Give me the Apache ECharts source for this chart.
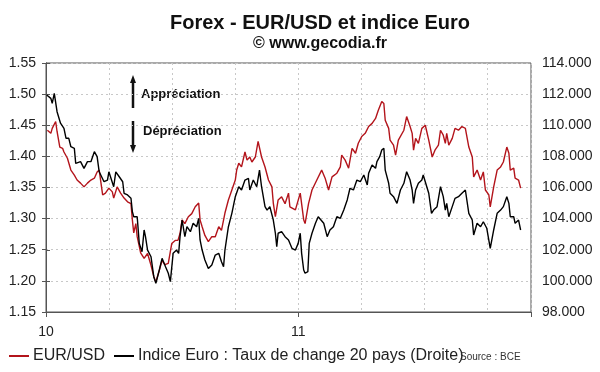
<!DOCTYPE html>
<html><head><meta charset="utf-8">
<script src="https://cdn.jsdelivr.net/npm/echarts@6/dist/echarts.min.js"></script>
<style>html,body{margin:0;padding:0;background:#fff}#c{width:600px;height:372px}</style>
</head><body><div id="c"></div>
<script>
const eurDates = ['2010-01-03','2010-01-08','2010-01-10','2010-01-15','2010-01-17','2010-01-21','2010-01-25','2010-01-27','2010-02-01','2010-02-03','2010-02-06','2010-02-11','2010-02-15','2010-02-20','2010-02-25','2010-03-02','2010-03-07','2010-03-12','2010-03-16','2010-03-19','2010-03-21','2010-03-24','2010-03-28','2010-04-02','2010-04-07','2010-04-09','2010-04-14','2010-04-19','2010-04-24','2010-04-29','2010-05-04','2010-05-06','2010-05-08','2010-05-11','2010-05-13','2010-05-18','2010-05-23','2010-05-28','2010-06-02','2010-06-06','2010-06-09','2010-06-14','2010-06-18','2010-06-22','2010-06-27','2010-07-02','2010-07-07','2010-07-11','2010-07-14','2010-07-17','2010-07-21','2010-07-26','2010-07-31','2010-08-05','2010-08-10','2010-08-12','2010-08-15','2010-08-19','2010-08-24','2010-08-29','2010-09-03','2010-09-08','2010-09-12','2010-09-17','2010-09-22','2010-09-27','2010-10-02','2010-10-04','2010-10-07','2010-10-11','2010-10-16','2010-10-19','2010-10-23','2010-10-26','2010-10-31','2010-11-04','2010-11-09','2010-11-14','2010-11-19','2010-11-24','2010-11-26','2010-11-29','2010-12-03','2010-12-08','2010-12-13','2010-12-18','2010-12-20','2010-12-28','2011-01-04','2011-01-09','2011-01-11','2011-01-16','2011-01-21','2011-01-28','2011-02-04','2011-02-09','2011-02-14','2011-02-19','2011-02-26','2011-03-03','2011-03-05','2011-03-10','2011-03-15','2011-03-20','2011-03-25','2011-03-29','2011-04-03','2011-04-08','2011-04-13','2011-04-18','2011-04-23','2011-04-27','2011-05-02','2011-05-05','2011-05-07','2011-05-12','2011-05-14','2011-05-19','2011-05-22','2011-05-26','2011-06-03','2011-06-07','2011-06-12','2011-06-15','2011-06-17','2011-06-20','2011-06-24','2011-06-29','2011-07-04','2011-07-09','2011-07-14','2011-07-18','2011-07-23','2011-07-26','2011-07-30','2011-08-02','2011-08-04','2011-08-07','2011-08-12','2011-08-16','2011-08-21','2011-08-26','2011-08-31','2011-09-05','2011-09-10','2011-09-12','2011-09-17','2011-09-22','2011-09-26','2011-09-29','2011-10-04','2011-10-06','2011-10-11','2011-10-16','2011-10-21','2011-10-25','2011-10-30','2011-11-02','2011-11-04','2011-11-09','2011-11-11','2011-11-16','2011-11-19'];
const eurValues = [1.442,1.437,1.445,1.456,1.440,1.415,1.413,1.407,1.397,1.394,1.378,1.370,1.362,1.357,1.351,1.357,1.362,1.365,1.375,1.378,1.362,1.338,1.341,1.349,1.343,1.333,1.351,1.341,1.333,1.327,1.324,1.298,1.277,1.292,1.271,1.245,1.236,1.244,1.225,1.207,1.198,1.217,1.233,1.226,1.228,1.260,1.265,1.265,1.276,1.298,1.292,1.303,1.308,1.319,1.325,1.298,1.287,1.273,1.263,1.271,1.271,1.287,1.281,1.309,1.330,1.346,1.362,1.378,1.389,1.383,1.407,1.394,1.399,1.391,1.399,1.424,1.399,1.383,1.362,1.351,1.325,1.303,1.330,1.335,1.324,1.341,1.319,1.314,1.341,1.298,1.292,1.324,1.346,1.362,1.378,1.365,1.346,1.367,1.373,1.383,1.402,1.394,1.381,1.413,1.405,1.421,1.432,1.437,1.448,1.453,1.461,1.474,1.488,1.485,1.458,1.445,1.426,1.418,1.402,1.426,1.442,1.464,1.448,1.437,1.410,1.429,1.421,1.445,1.450,1.426,1.399,1.410,1.418,1.442,1.434,1.421,1.437,1.418,1.429,1.445,1.442,1.448,1.445,1.415,1.399,1.367,1.378,1.362,1.375,1.346,1.338,1.319,1.351,1.378,1.383,1.391,1.415,1.405,1.378,1.381,1.365,1.362,1.349];
const idxDates = ['2010-01-02','2010-01-08','2010-01-10','2010-01-13','2010-01-15','2010-01-17','2010-01-22','2010-01-27','2010-01-30','2010-02-03','2010-02-06','2010-02-11','2010-02-13','2010-02-15','2010-02-20','2010-02-25','2010-03-02','2010-03-07','2010-03-12','2010-03-16','2010-03-19','2010-03-21','2010-03-26','2010-03-31','2010-04-02','2010-04-09','2010-04-12','2010-04-17','2010-04-22','2010-04-24','2010-04-29','2010-05-04','2010-05-06','2010-05-08','2010-05-13','2010-05-16','2010-05-20','2010-05-23','2010-05-25','2010-05-28','2010-06-02','2010-06-06','2010-06-09','2010-06-14','2010-06-18','2010-06-23','2010-06-27','2010-06-30','2010-07-04','2010-07-09','2010-07-12','2010-07-14','2010-07-17','2010-07-21','2010-07-24','2010-07-29','2010-08-02','2010-08-07','2010-08-10','2010-08-12','2010-08-15','2010-08-19','2010-08-24','2010-08-29','2010-09-03','2010-09-08','2010-09-12','2010-09-15','2010-09-17','2010-09-22','2010-09-27','2010-10-02','2010-10-07','2010-10-11','2010-10-16','2010-10-21','2010-10-23','2010-10-28','2010-11-02','2010-11-06','2010-11-09','2010-11-14','2010-11-17','2010-11-21','2010-11-26','2010-11-29','2010-12-01','2010-12-03','2010-12-08','2010-12-13','2010-12-18','2010-12-23','2010-12-28','2011-01-01','2011-01-04','2011-01-06','2011-01-09','2011-01-11','2011-01-15','2011-01-17','2011-01-21','2011-01-26','2011-01-30','2011-02-07','2011-02-12','2011-02-16','2011-02-21','2011-02-26','2011-03-03','2011-03-08','2011-03-13','2011-03-17','2011-03-22','2011-03-27','2011-04-01','2011-04-06','2011-04-11','2011-04-13','2011-04-18','2011-04-23','2011-04-25','2011-04-29','2011-05-02','2011-05-05','2011-05-07','2011-05-12','2011-05-14','2011-05-19','2011-05-24','2011-05-29','2011-06-03','2011-06-07','2011-06-12','2011-06-15','2011-06-17','2011-06-20','2011-06-24','2011-06-29','2011-07-01','2011-07-09','2011-07-13','2011-07-16','2011-07-21','2011-07-26','2011-07-30','2011-08-02','2011-08-04','2011-08-07','2011-08-12','2011-08-16','2011-08-21','2011-08-26','2011-08-31','2011-09-05','2011-09-10','2011-09-12','2011-09-17','2011-09-22','2011-09-26','2011-10-01','2011-10-06','2011-10-11','2011-10-16','2011-10-21','2011-10-25','2011-10-30','2011-11-02','2011-11-04','2011-11-09','2011-11-11','2011-11-16','2011-11-19'];
const idxValues = [111.94,111.73,111.41,112.05,112.01,110.87,110.13,109.80,109.16,109.16,108.62,108.52,107.55,107.45,107.66,107.23,107.66,107.66,108.30,107.98,107.01,106.91,106.37,106.48,107.01,106.05,107.01,106.69,106.37,105.63,105.52,105.31,104.45,104.12,104.12,102.41,101.87,103.27,102.84,101.98,101.55,100.27,99.84,100.70,101.45,100.91,100.49,99.95,101.77,101.98,101.77,102.84,103.91,102.84,103.48,103.16,103.70,103.48,104.02,102.63,101.98,101.34,100.80,101.02,101.66,101.77,101.23,100.91,101.98,103.48,104.34,105.41,106.05,105.84,106.48,106.59,105.84,106.48,106.05,107.12,106.05,104.77,104.55,104.77,103.91,103.06,102.20,103.06,103.16,102.84,102.63,102.09,101.98,102.41,103.06,101.77,100.70,100.49,100.59,102.41,103.06,103.70,104.12,103.70,102.84,103.27,103.48,104.12,104.02,104.55,105.20,105.95,105.84,106.48,106.37,106.80,106.16,106.91,107.45,107.23,107.66,107.98,108.41,108.52,107.12,106.27,105.63,105.41,104.98,105.84,106.27,107.01,106.48,105.84,104.98,105.84,106.27,106.48,106.80,105.63,104.34,104.55,104.77,106.05,105.41,104.55,104.98,104.12,104.77,105.30,105.41,105.63,105.84,104.34,103.91,102.95,103.70,103.48,103.80,103.38,102.09,103.27,104.34,104.55,104.77,105.41,104.98,104.12,104.12,103.70,103.91,103.27];
const yearLabels = ['10', '11'];
const seriesNames = ['EUR/USD', 'Indice Euro : Taux de change 20 pays (Droite)'];

const FONT = 'Liberation Sans, Arial, sans-serif';
const T0 = Date.UTC(2010, 0, 1);
function dayIdx(s) { const p = s.split('-'); return (Date.UTC(+p[0], +p[1] - 1, +p[2]) - T0) / 86400000; }
const eurData = eurDates.map((d, i) => [dayIdx(d), eurValues[i]]);
const idxData = idxDates.map((d, i) => [dayIdx(d), idxValues[i]]);

const chart = echarts.init(document.getElementById('c'));
const grid = { left: 46, right: 69, top: 63, bottom: 60, show: true, borderColor: '#555', borderWidth: 1 };
const dotted = { show: true, lineStyle: { color: '#c8c8c8', type: [2, 3], width: 1 } };
chart.setOption({
  animation: false,
  backgroundColor: '#fff',
  grid: grid,
  xAxis: [
    { type: 'value', min: 0, max: 702, interval: 91.25, axisLine: { show: false }, axisTick: { show: false },
      axisLabel: { show: false }, splitLine: dotted },
    { type: 'value', position: 'bottom', min: 0, max: 702, interval: 365,
      axisLine: { show: true, lineStyle: { color: '#555' } },
      axisTick: { show: true, length: 5, lineStyle: { color: '#555' } },
      splitLine: { show: false },
      axisLabel: { fontFamily: FONT, fontSize: 14, color: '#222', margin: 13,
        formatter: v => (Math.abs(v) < 1 ? yearLabels[0] : (Math.abs(v - 365) < 1 ? yearLabels[1] : '')) } }
  ],
  yAxis: [
    { type: 'value', position: 'left', min: 1.15, max: 1.55, interval: 0.05,
      axisLine: { show: true, lineStyle: { color: '#555' } },
      axisTick: { show: true, length: 4, lineStyle: { color: '#555' } },
      axisLabel: { fontFamily: FONT, fontSize: 14, color: '#222', margin: 10, formatter: v => v.toFixed(2) },
      splitLine: dotted },
    { type: 'value', position: 'right', min: 98, max: 114, interval: 2,
      axisLine: { show: true, lineStyle: { color: '#555' } },
      axisTick: { show: true, length: 4, lineStyle: { color: '#555' } },
      axisLabel: { fontFamily: FONT, fontSize: 14, color: '#222', margin: 11, formatter: v => v.toFixed(3) },
      splitLine: { show: false } }
  ],
  legend: {
    data: seriesNames, left: 9, top: 348, padding: 0, itemGap: 9, icon: 'rect', itemWidth: 20, itemHeight: 2,
    textStyle: { fontFamily: FONT, fontSize: 16, color: '#222', padding: [0, 0, 0, -1] }
  },
  series: [
    { name: seriesNames[0], type: 'line', xAxisIndex: 0, yAxisIndex: 0, data: eurData, showSymbol: false,
      lineStyle: { color: '#b3141b', width: 1.4 }, itemStyle: { color: '#b3141b' } },
    { name: seriesNames[1], type: 'line', xAxisIndex: 0, yAxisIndex: 1, data: idxData, showSymbol: false,
      lineStyle: { color: '#000', width: 1.4 }, itemStyle: { color: '#000' } }
  ],
  graphic: [
    { type: 'text', x: 320, y: 23, style: { text: 'Forex - EUR/USD et indice Euro', font: 'bold 20px ' + FONT, fill: '#111', align: 'center', verticalAlign: 'middle' } },
    { type: 'text', x: 320, y: 44, style: { text: '© www.gecodia.fr', font: 'bold 16px ' + FONT, fill: '#111', align: 'center', verticalAlign: 'middle' } },
    { type: 'line', shape: { x1: 133, y1: 81, x2: 133, y2: 108 }, style: { stroke: '#111', lineWidth: 2.5 } },
    { type: 'polygon', shape: { points: [[133, 75], [130, 83], [136, 83]] }, style: { fill: '#111' } },
    { type: 'line', shape: { x1: 133, y1: 121, x2: 133, y2: 147 }, style: { stroke: '#111', lineWidth: 2.5 } },
    { type: 'polygon', shape: { points: [[133, 153], [130, 145], [136, 145]] }, style: { fill: '#111' } },
    { type: 'text', x: 141, y: 94, style: { text: 'Appréciation', font: 'bold 13px ' + FONT, fill: '#111', verticalAlign: 'middle' } },
    { type: 'text', x: 143, y: 131, style: { text: 'Dépréciation', font: 'bold 13px ' + FONT, fill: '#111', verticalAlign: 'middle' } },
    { type: 'text', x: 460, y: 357, style: { text: 'Source : BCE', font: '10px ' + FONT, fill: '#333', verticalAlign: 'middle' } }
  ]
});
</script></body></html>
